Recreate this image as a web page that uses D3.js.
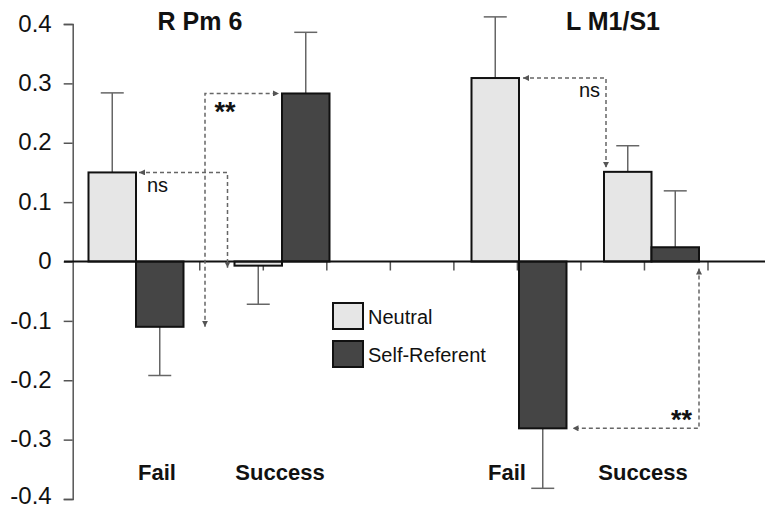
<!DOCTYPE html>
<html>
<head>
<meta charset="utf-8">
<script src="https://cdn.jsdelivr.net/npm/d3@7"></script>
<style>
  body { margin: 0; background: #fff; }
  text { font-family: "Liberation Sans", Arial, sans-serif; fill: #111; }
</style>
</head>
<body>
<div id="chart"></div>
<script>
const groups = ['R Fail', 'R Success', 'L Fail', 'L Success'];
const groupLabels = ['Fail', 'Success', 'Fail', 'Success'];
const regionTitles = ['R Pm 6', 'L M1/S1'];
const series = ['Neutral', 'Self-Referent'];

const neutralValues = [0.150, -0.007, 0.309, 0.151];
const neutralErrors = [0.134, 0.065, 0.103, 0.044];
const selfValues = [-0.110, 0.283, -0.281, 0.024];
const selfErrors = [0.082, 0.103, 0.101, 0.095];

const yTicks = [0.4, 0.3, 0.2, 0.1, 0, -0.1, -0.2, -0.3, -0.4];
const slotTicks = [1, 2, 3, 4, 5, 6, 7, 8, 9, 10];

const width = 765;
const height = 510;

const svg = d3.select('#chart')
  .append('svg')
    .attr('width', width)
    .attr('height', height);

const y = d3.scaleLinear().domain([-0.4, 0.4]).range([499, 24]);
const gx = d3.scaleOrdinal().domain(groups).range([136, 282, 519, 651.5]);
const x1 = d3.scaleBand().domain(series).range([-47.5, 47.5]);
const slots = d3.scaleLinear().domain([0, 10]).range([72.7, 708]);
const labelX = d3.scaleOrdinal().domain(groups).range([157, 280, 507, 643]);
const titleX = d3.scaleOrdinal().domain(regionTitles).range([200, 613]);
const fills = d3.scaleOrdinal().domain(series).range(['#e6e6e6', '#454545']);

const bars = [];
groups.forEach((g, i) => {
  bars.push({group: g, series: 'Neutral', value: neutralValues[i], err: neutralErrors[i]});
  bars.push({group: g, series: 'Self-Referent', value: selfValues[i], err: selfErrors[i]});
});
const bx = d => gx(d.group) + x1(d.series);
const find = (g, s) => bars.find(d => d.group === g && d.series === s);

// y axis
const yAxis = d3.axisLeft(y)
  .tickValues(yTicks)
  .tickSize(9)
  .tickPadding(12)
  .tickFormat(d => d === 0 ? '0' : (d < 0 ? '-' : '') + Math.abs(d).toFixed(1));

const ya = svg.append('g')
  .attr('transform', 'translate(72.7,0)')
  .call(yAxis);
ya.select('.domain').attr('stroke', '#555').attr('stroke-width', 1.5);
ya.selectAll('.tick line').attr('stroke', '#555').attr('stroke-width', 1.5);
ya.selectAll('.tick text')
  .attr('font-size', '24px')
  .attr('dy', d => d === -0.4 ? '4px' : '0.3em')
  .style('font-family', '"Liberation Sans", Arial, sans-serif')
  .attr('fill', '#111');

// category slot ticks below zero line
svg.selectAll('line.slot')
  .data(slotTicks)
  .enter()
  .append('line')
    .attr('class', 'slot')
    .attr('x1', d => slots(d))
    .attr('x2', d => slots(d))
    .attr('y1', y(0))
    .attr('y2', y(0) + 9)
    .attr('stroke', '#555')
    .attr('stroke-width', 1.5);

// error bars
const eb = svg.selectAll('g.err')
  .data(bars)
  .enter()
  .append('g')
    .attr('class', 'err');

const errEnd = d => y(d.value + (d.value >= 0 ? d.err : -d.err));

eb.append('line')
  .attr('x1', d => bx(d) + x1.bandwidth() / 2)
  .attr('x2', d => bx(d) + x1.bandwidth() / 2)
  .attr('y1', d => y(d.value))
  .attr('y2', errEnd)
  .attr('stroke', '#666')
  .attr('stroke-width', 1.5);

eb.append('line')
  .attr('x1', d => bx(d) + x1.bandwidth() / 2 - 11.5)
  .attr('x2', d => bx(d) + x1.bandwidth() / 2 + 11.5)
  .attr('y1', errEnd)
  .attr('y2', errEnd)
  .attr('stroke', '#666')
  .attr('stroke-width', 1.5);

// bars
svg.selectAll('rect.bar')
  .data(bars)
  .enter()
  .append('rect')
    .attr('class', 'bar')
    .attr('x', bx)
    .attr('y', d => y(Math.max(0, d.value)))
    .attr('width', x1.bandwidth())
    .attr('height', d => Math.abs(y(d.value) - y(0)))
    .attr('fill', d => fills(d.series))
    .attr('stroke', '#111')
    .attr('stroke-width', 2);

// zero line
svg.append('line')
  .attr('x1', 64)
  .attr('x2', width)
  .attr('y1', y(0))
  .attr('y2', y(0))
  .attr('stroke', '#111')
  .attr('stroke-width', 2);

// arrow marker
svg.append('defs')
  .append('marker')
    .attr('id', 'arrow')
    .attr('viewBox', '0 0 6 6')
    .attr('refX', 6)
    .attr('refY', 3)
    .attr('markerWidth', 6)
    .attr('markerHeight', 6)
    .attr('markerUnits', 'userSpaceOnUse')
    .attr('orient', 'auto-start-reverse')
  .append('path')
    .attr('d', 'M0,0L6,3L0,6Z')
    .attr('fill', '#555');

const w = x1.bandwidth();
const nfR = find('R Fail', 'Neutral');
const nsR = find('R Success', 'Neutral');
const sfR = find('R Fail', 'Self-Referent');
const ssR = find('R Success', 'Self-Referent');
const nfL = find('L Fail', 'Neutral');
const nsL = find('L Success', 'Neutral');
const sfL = find('L Fail', 'Self-Referent');
const ssL = find('L Success', 'Self-Referent');

const paths = [
  `M${bx(nfR) + w + 3},${y(nfR.value)}H${bx(nsR) - 7}V${y(nsR.value) + 2}`,
  `M${bx(sfR) + w + 21.5},${y(sfR.value)}V${y(ssR.value)}H${bx(ssR) - 3}`,
  `M${bx(nfL) + w + 4},${y(nfL.value)}H${bx(nsL) + 2}V${y(nsL.value) - 4}`,
  `M${bx(ssL) + w},${y(0) + 7}V${y(sfL.value)}H${bx(sfL) + w + 6}`
];

svg.selectAll('path.cmp')
  .data(paths)
  .enter()
  .append('path')
    .attr('class', 'cmp')
    .attr('d', d => d)
    .attr('fill', 'none')
    .attr('stroke', '#666')
    .attr('stroke-width', 1.5)
    .attr('stroke-dasharray', '4,3')
    .attr('marker-start', 'url(#arrow)')
    .attr('marker-end', 'url(#arrow)');

// significance labels
svg.append('text')
  .attr('x', bx(nfR) + w + 11)
  .attr('y', y(nfR.value) + 20)
  .attr('font-size', '20px')
  .text('ns');

svg.append('text')
  .attr('x', bx(nsL) - 4)
  .attr('y', y(nfL.value) + 19)
  .attr('text-anchor', 'end')
  .attr('font-size', '20px')
  .text('ns');

svg.append('text')
  .attr('x', bx(sfR) + w + 31)
  .attr('y', y(ssR.value) + 28)
  .attr('font-size', '27px')
  .attr('font-weight', 'bold')
  .text('**');

svg.append('text')
  .attr('x', bx(ssL) + w - 7)
  .attr('y', y(sfL.value) + 1)
  .attr('text-anchor', 'end')
  .attr('font-size', '27px')
  .attr('font-weight', 'bold')
  .text('**');

// titles
svg.selectAll('text.title')
  .data(regionTitles)
  .enter()
  .append('text')
    .attr('class', 'title')
    .attr('x', d => titleX(d))
    .attr('y', 30)
    .attr('text-anchor', 'middle')
    .attr('font-size', '25px')
    .attr('font-weight', 'bold')
    .text(d => d);

// category labels
svg.selectAll('text.cat')
  .data(groups)
  .enter()
  .append('text')
    .attr('class', 'cat')
    .attr('x', d => labelX(d))
    .attr('y', 480)
    .attr('text-anchor', 'middle')
    .attr('font-size', '22px')
    .attr('font-weight', 'bold')
    .text((d, i) => groupLabels[i]);

// legend
const legend = svg.selectAll('g.legend')
  .data(series)
  .enter()
  .append('g')
    .attr('class', 'legend')
    .attr('transform', (d, i) => `translate(333,${303 + i * 38})`);

legend.append('rect')
  .attr('width', 30)
  .attr('height', 26)
  .attr('fill', d => fills(d))
  .attr('stroke', '#111')
  .attr('stroke-width', 2);

legend.append('text')
  .attr('x', 35)
  .attr('y', 21)
  .attr('font-size', '20px')
  .text(d => d);
</script>
</body>
</html>
